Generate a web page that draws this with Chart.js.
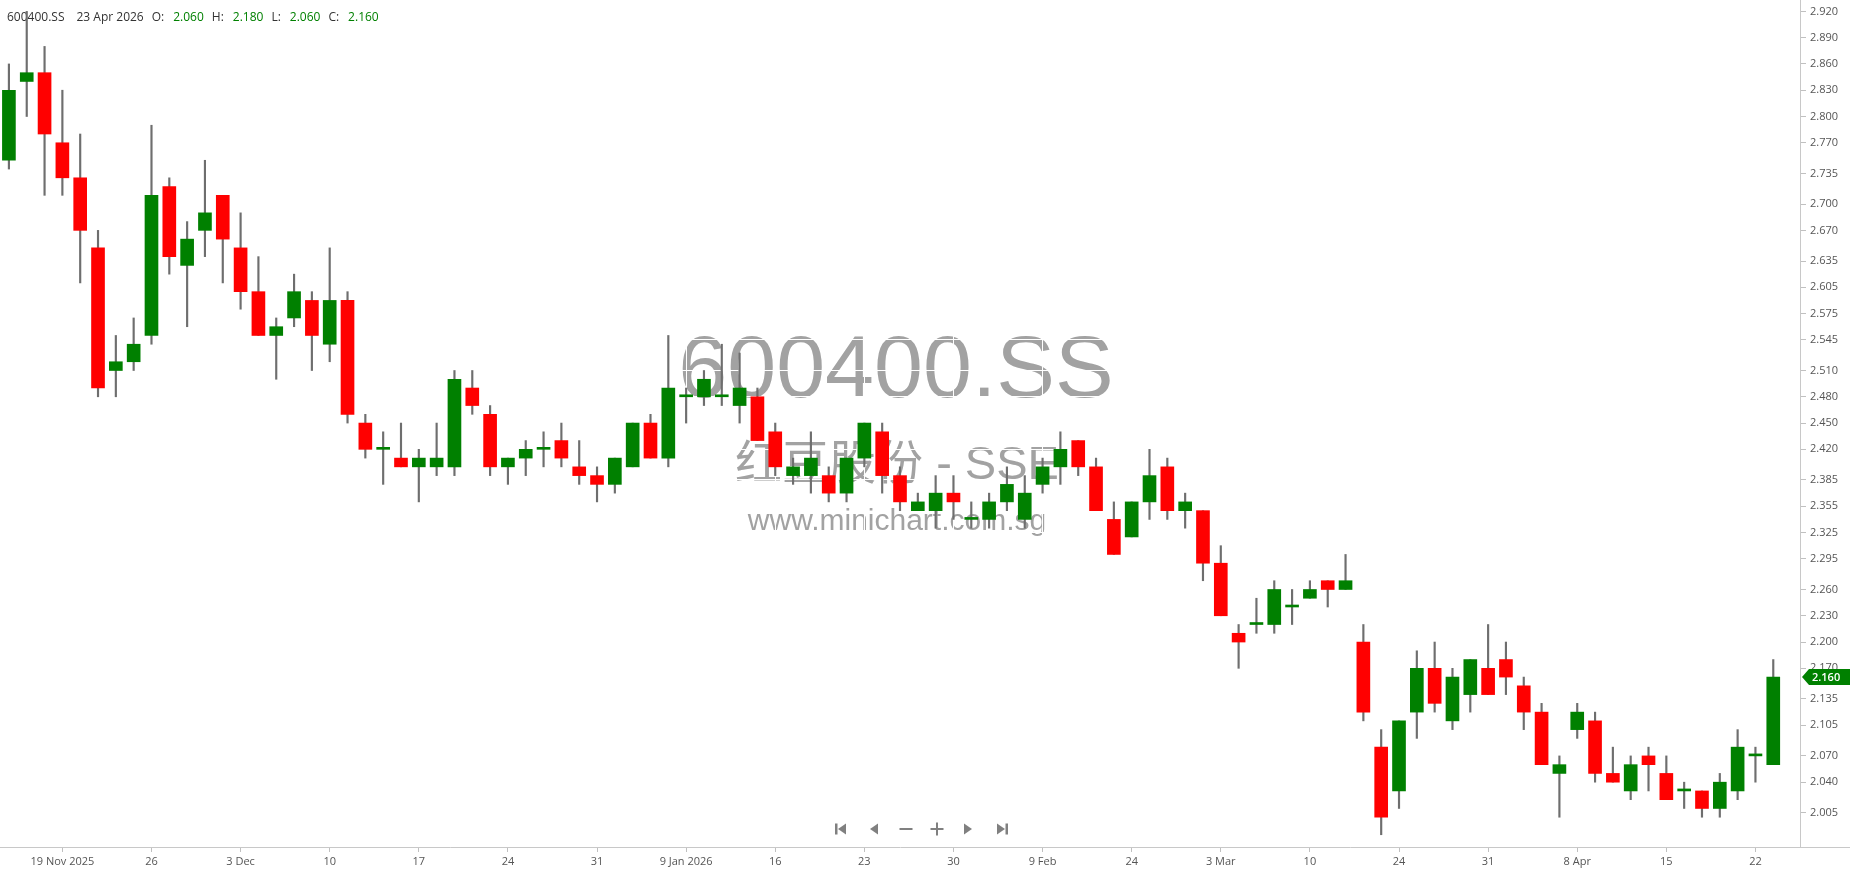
<!DOCTYPE html>
<html>
<head>
<meta charset="utf-8">
<title>600400.SS</title>
<script src="https://cdn.jsdelivr.net/npm/chart.js@4.4.1/dist/chart.umd.min.js"></script>
<style>
    html, body { margin: 0; padding: 0; background: #ffffff; }
    #wrap { width: 1850px; height: 874px; }
</style>
</head>
<body>
<div id="wrap"><canvas id="priceChart" width="1850" height="874"></canvas></div>
<script>
const symbol = '600400.SS';
const companyName = '红豆股份 - SSE';
const siteName = 'www.minichart.com.sg';
const lastDate = '23 Apr 2026';

// daily OHLC, 17 Nov 2025 .. 23 Apr 2026
const opens = [
    2.75, 2.84, 2.85, 2.77, 2.73, 2.65, 2.51, 2.52, 2.55, 2.72,
    2.63, 2.67, 2.71, 2.65, 2.60, 2.55, 2.57, 2.59, 2.54, 2.59,
    2.45, 2.42, 2.41, 2.40, 2.40, 2.40, 2.49, 2.46, 2.40, 2.41,
    2.42, 2.43, 2.40, 2.39, 2.38, 2.40, 2.45, 2.41, 2.48, 2.48,
    2.48, 2.47, 2.48, 2.44, 2.39, 2.39, 2.39, 2.37, 2.41, 2.44,
    2.39, 2.35, 2.35, 2.37, 2.34, 2.34, 2.36, 2.34, 2.38, 2.40,
    2.43, 2.40, 2.34, 2.32, 2.36, 2.40, 2.35, 2.35, 2.29, 2.21,
    2.22, 2.22, 2.24, 2.25, 2.27, 2.26, 2.20, 2.08, 2.03, 2.12,
    2.17, 2.11, 2.14, 2.17, 2.18, 2.15, 2.12, 2.05, 2.10, 2.11,
    2.05, 2.03, 2.07, 2.05, 2.03, 2.03, 2.01, 2.03, 2.07, 2.06
];
const highs = [
    2.86, 2.92, 2.88, 2.83, 2.78, 2.67, 2.55, 2.57, 2.79, 2.73,
    2.68, 2.75, 2.71, 2.69, 2.64, 2.57, 2.62, 2.60, 2.65, 2.60,
    2.46, 2.44, 2.45, 2.42, 2.45, 2.51, 2.51, 2.47, 2.41, 2.43,
    2.44, 2.45, 2.43, 2.40, 2.41, 2.45, 2.46, 2.55, 2.49, 2.51,
    2.54, 2.53, 2.49, 2.45, 2.41, 2.44, 2.40, 2.41, 2.45, 2.45,
    2.40, 2.37, 2.39, 2.39, 2.36, 2.37, 2.40, 2.39, 2.41, 2.44,
    2.43, 2.41, 2.36, 2.36, 2.42, 2.41, 2.37, 2.35, 2.31, 2.22,
    2.25, 2.27, 2.26, 2.27, 2.27, 2.30, 2.22, 2.10, 2.11, 2.19,
    2.20, 2.17, 2.18, 2.22, 2.20, 2.16, 2.13, 2.07, 2.13, 2.12,
    2.08, 2.07, 2.08, 2.07, 2.04, 2.03, 2.05, 2.10, 2.08, 2.18
];
const lows = [
    2.74, 2.80, 2.71, 2.71, 2.61, 2.48, 2.48, 2.51, 2.54, 2.62,
    2.56, 2.64, 2.61, 2.58, 2.55, 2.50, 2.56, 2.51, 2.52, 2.45,
    2.41, 2.38, 2.40, 2.36, 2.39, 2.39, 2.46, 2.39, 2.38, 2.39,
    2.40, 2.40, 2.38, 2.36, 2.37, 2.40, 2.41, 2.40, 2.45, 2.47,
    2.47, 2.45, 2.43, 2.39, 2.38, 2.37, 2.36, 2.36, 2.40, 2.37,
    2.35, 2.35, 2.33, 2.34, 2.33, 2.33, 2.35, 2.33, 2.37, 2.38,
    2.39, 2.35, 2.30, 2.32, 2.34, 2.34, 2.33, 2.27, 2.23, 2.17,
    2.21, 2.21, 2.22, 2.25, 2.24, 2.26, 2.11, 1.98, 2.01, 2.09,
    2.12, 2.10, 2.12, 2.14, 2.14, 2.10, 2.06, 2.00, 2.09, 2.04,
    2.04, 2.02, 2.03, 2.02, 2.01, 2.00, 2.00, 2.02, 2.04, 2.06
];
const closes = [
    2.83, 2.85, 2.78, 2.73, 2.67, 2.49, 2.52, 2.54, 2.71, 2.64,
    2.66, 2.69, 2.66, 2.60, 2.55, 2.56, 2.60, 2.55, 2.59, 2.46,
    2.42, 2.42, 2.40, 2.41, 2.41, 2.50, 2.47, 2.40, 2.41, 2.42,
    2.42, 2.41, 2.39, 2.38, 2.41, 2.45, 2.41, 2.49, 2.48, 2.50,
    2.48, 2.49, 2.43, 2.40, 2.40, 2.41, 2.37, 2.41, 2.45, 2.39,
    2.36, 2.36, 2.37, 2.36, 2.34, 2.36, 2.38, 2.37, 2.40, 2.42,
    2.40, 2.35, 2.30, 2.36, 2.39, 2.35, 2.36, 2.29, 2.23, 2.20,
    2.22, 2.26, 2.24, 2.26, 2.26, 2.27, 2.12, 2.00, 2.11, 2.17,
    2.13, 2.16, 2.18, 2.14, 2.16, 2.12, 2.06, 2.06, 2.12, 2.05,
    2.04, 2.06, 2.06, 2.02, 2.03, 2.01, 2.04, 2.08, 2.07, 2.16
];

// date labels on the x axis, one every 5 sessions from the 4th candle
const dateTicks = ['19 Nov 2025', '26', '3 Dec', '10', '17', '24', '31', '9 Jan 2026', '16', '23',
    '30', '9 Feb', '24', '3 Mar', '10', '24', '31', '8 Apr', '15', '22'];
const firstTickAt = 3;
const tickEvery = 5;

const priceTicks = [2.920, 2.890, 2.860, 2.830, 2.800, 2.770, 2.735, 2.700, 2.670, 2.635,
    2.605, 2.575, 2.545, 2.510, 2.480, 2.450, 2.420, 2.385, 2.355, 2.325,
    2.295, 2.260, 2.230, 2.200, 2.170, 2.135, 2.105, 2.070, 2.040, 2.005];
const priceMin = 1.966;
const priceMax = 2.933;

const UP = '#008000';
const DOWN = '#ff0000';
const last = closes.length - 1;

// one spare slot on the right like the original
const categories = [];
for (let i = 0; i <= closes.length; i++) {
    const k = (i - firstTickAt) / tickEvery;
    categories.push(Number.isInteger(k) && k >= 0 && k < dateTicks.length ? dateTicks[k] : '');
}

const bodyColors = opens.map((o, i) => closes[i] >= o ? UP : DOWN);

function drawNavIcons(c, x0, y) {
    c.fillStyle = '#808080';
    const tri = (a, b, d) => {
        c.beginPath();
        c.moveTo(a[0], a[1]); c.lineTo(b[0], b[1]); c.lineTo(d[0], d[1]);
        c.closePath(); c.fill();
    };
    let x = x0;
    c.fillRect(x - 6, y - 5.5, 2.5, 11);
    tri([x + 5, y - 5.5], [x - 3, y], [x + 5, y + 5.5]);
    x = x0 + 33;
    tri([x + 4, y - 5.5], [x - 4, y], [x + 4, y + 5.5]);
    x = x0 + 65;
    c.fillRect(x - 6.5, y - 1, 13, 2);
    x = x0 + 96;
    c.fillRect(x - 6.5, y - 1, 13, 2);
    c.fillRect(x - 1, y - 6.5, 2, 13);
    x = x0 + 127;
    tri([x - 4, y - 5.5], [x + 4, y], [x - 4, y + 5.5]);
    x = x0 + 161;
    tri([x - 5, y - 5.5], [x + 3, y], [x - 5, y + 5.5]);
    c.fillRect(x + 3.5, y - 5.5, 2.5, 11);
}

const chartDecor = {
    id: 'chartDecor',
    beforeDraw(chart) {
        // watermark sits under the (white) grid lines
        const c = chart.ctx;
        c.save();
        c.fillStyle = '#a2a2a2';
        c.textAlign = 'center';
        c.textBaseline = 'alphabetic';
        c.font = '88px "Liberation Sans", Arial, sans-serif';
        c.fillText(symbol, 896, 397);
        c.font = '47px "Liberation Sans", "Noto Sans CJK SC", sans-serif';
        c.fillText(companyName, 897, 479);
        c.font = '30px "Liberation Sans", Arial, sans-serif';
        c.fillText(siteName, 897, 530);
        c.restore();
    },
    beforeDatasetsDraw(chart) {
        const c = chart.ctx;
        const fmt = v => v.toFixed(3);
        const valColor = bodyColors[last];
        const parts = [
            [symbol, '#333'], [lastDate, '#333'],
            ['O:', '#333'], [fmt(opens[last]), valColor],
            ['H:', '#333'], [fmt(highs[last]), valColor],
            ['L:', '#333'], [fmt(lows[last]), valColor],
            ['C:', '#333'], [fmt(closes[last]), valColor]
        ];
        const gaps = [12, 8, 9, 8, 9, 8, 9, 8, 9];
        c.save();
        c.font = '12px "Open Sans", sans-serif';
        c.textBaseline = 'middle';
        c.textAlign = 'left';
        let x = 7;
        parts.forEach((p, i) => {
            c.fillStyle = p[1];
            c.fillText(p[0], x, 18);
            x += c.measureText(p[0]).width + (gaps[i] || 0);
        });
        c.restore();
    },
    afterDraw(chart) {
        const c = chart.ctx;
        const area = chart.chartArea;
        c.save();
        // x axis line runs under the price labels too
        c.strokeStyle = '#c8c8c8';
        c.lineWidth = 1;
        c.beginPath();
        c.moveTo(area.right, Math.round(area.bottom) + 0.5);
        c.lineTo(chart.width, Math.round(area.bottom) + 0.5);
        c.stroke();

        // last price tag
        const y = chart.scales.y.getPixelForValue(closes[last]);
        const x0 = area.right + 2;
        c.fillStyle = bodyColors[last];
        c.beginPath();
        c.moveTo(x0, y);
        c.lineTo(x0 + 7, y - 8);
        c.lineTo(chart.width, y - 8);
        c.lineTo(chart.width, y + 8);
        c.lineTo(x0 + 7, y + 8);
        c.closePath();
        c.fill();
        c.fillStyle = '#ffffff';
        c.font = '600 11px "Open Sans", sans-serif';
        c.textBaseline = 'middle';
        c.fillText(closes[last].toFixed(3), x0 + 10, y + 0.5);

        drawNavIcons(c, 841, area.bottom - 18);
        c.restore();
    }
};

document.addEventListener('DOMContentLoaded', () => {
    Chart.defaults.font.family = '"Open Sans", sans-serif';
    const ctx = document.getElementById('priceChart').getContext('2d');
    new Chart(ctx, {
        type: 'bar',
        data: {
            labels: categories,
            datasets: [
                {
                    label: 'Range',
                    data: lows.map((l, i) => [l, highs[i]]),
                    backgroundColor: '#6e6e6e',
                    barThickness: 1.5,
                    grouped: false,
                    order: 2
                },
                {
                    label: symbol,
                    data: opens.map((o, i) => [o, closes[i]]),
                    backgroundColor: bodyColors,
                    borderWidth: 0,
                    barThickness: 13,
                    minBarLength: 2,
                    grouped: false,
                    order: 1
                }
            ]
        },
        options: {
            responsive: false,
            animation: false,
            events: [],
            layout: { padding: 0 },
            plugins: {
                legend: { display: false },
                tooltip: { enabled: false }
            },
            scales: {
                x: {
                    offset: true,
                    grid: { color: '#ffffff', offset: false, tickLength: 5, tickColor: '#c0c0c0' },
                    border: { color: '#c8c8c8' },
                    ticks: { autoSkip: false, maxRotation: 0, padding: 3, color: '#555', font: { size: 11 } },
                    afterBuildTicks: scale => {
                        scale.ticks = scale.ticks.filter(t => categories[t.value] !== '');
                    },
                    afterFit: scale => {
                        scale.height = 27;
                        scale.paddingLeft = 0;
                        scale.paddingRight = 0;
                    }
                },
                y: {
                    position: 'right',
                    min: priceMin,
                    max: priceMax,
                    grid: { color: '#ffffff', tickLength: 6, tickColor: '#c0c0c0' },
                    border: { color: '#c8c8c8' },
                    ticks: {
                        padding: 4,
                        color: '#555',
                        font: { size: 11 },
                        callback: v => v.toFixed(3)
                    },
                    afterBuildTicks: scale => {
                        scale.ticks = priceTicks.map(v => ({ value: v }));
                    },
                    afterFit: scale => {
                        scale.width = 50;
                        scale.paddingTop = 0;
                        scale.paddingBottom = 0;
                    }
                }
            }
        },
        plugins: [chartDecor]
    });
});
</script>
</body>
</html>
